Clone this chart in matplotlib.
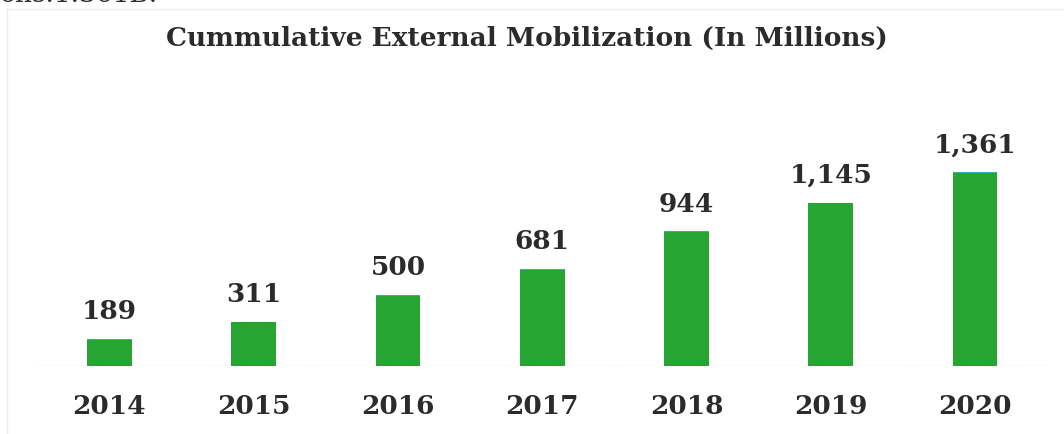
import matplotlib.pyplot as plt

years = ["2014", "2015", "2016", "2017", "2018", "2019", "2020"]
mobilization = [189, 311, 500, 681, 944, 1145, 1361]
value_labels = ["189", "311", "500", "681", "944", "1,145", "1,361"]

text_color = "#2b2b2b"
bar_color = "#27a532"
font = "DejaVu Serif"

fig = plt.figure(figsize=(10.64, 4.35), dpi=100)
ax = fig.add_axes([0, 0.1563, 1, 0.8437])

x = range(len(years))
ax.bar(x, mobilization, width=0.31, color=bar_color, edgecolor="none", zorder=3)
# thin bluish top edge, as in the scan
ax.bar(x, [v * 0 + 6 for v in mobilization], bottom=[v - 6 for v in mobilization],
       width=0.31, color="#3fa8b0", edgecolor="none", zorder=3)

for i, lbl in enumerate(value_labels):
    ax.text(i, mobilization[i] + 110, lbl, ha="center", va="bottom",
            fontsize=19, fontweight="bold", family=font, color=text_color)

ax.set_xlim(-0.759, 6.617)
ax.set_ylim(0, 2572)
ax.axhline(0, xmin=0.035, xmax=0.985, color="#d8d8d8", lw=1, ls=(0, (2, 1)), zorder=2)
ax.axis("off")

for i, yr in enumerate(years):
    fig.text((i + 0.759) / 7.376, 1 - 407 / 435, yr, ha="center", va="center",
             fontsize=19, fontweight="bold", family=font, color=text_color)

fig.text(0.495, 1 - 38 / 435, "Cummulative External Mobilization (In Millions)",
         ha="center", va="center", fontsize=19, fontweight="bold",
         family=font, color=text_color)

# clipped line of document text above the chart
fig.text(0.0, 1.012, "ons.1.361B.", ha="left", va="center", fontsize=19,
         family=font, color=text_color)

# faint frame of the scanned chart
fig.add_artist(plt.Line2D([0.007, 0.007], [0, 1 - 10 / 435], color="#ececec", lw=1))
fig.add_artist(plt.Line2D([0.007, 1], [1 - 10 / 435, 1 - 10 / 435], color="#ececec", lw=1))

plt.savefig("out.png", dpi=100)
plt.close()
